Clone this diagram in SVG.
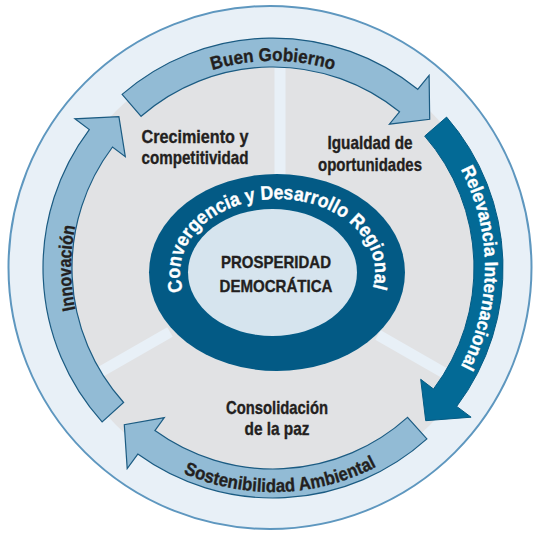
<svg xmlns="http://www.w3.org/2000/svg" width="534" height="534" viewBox="0 0 534 534">
<style>
.bg{fill:#ffffff}
.outer{fill:#e8f0f7;stroke:#5e97bf;stroke-width:2}
.gray{fill:#e1e2e4}
.div{stroke:#e8f0f7;stroke-width:11;fill:none}
.light{fill:#92bbd5;stroke:#1b5b82;stroke-width:1.2;stroke-linejoin:miter}
.dark{fill:#036a96;stroke:#045b84;stroke-width:1}
.t{font-family:'Liberation Sans',Arial,sans-serif;font-weight:bold;stroke-width:0.35;paint-order:stroke}
.lbl{font-size:18.5px;fill:#231f20;stroke:#231f20;text-anchor:middle}
.ctr{font-size:17px;fill:#231f20;stroke:#231f20;text-anchor:middle}
.arr{font-size:18.5px;fill:#231f20;stroke:#231f20}
.wht{fill:#ffffff;stroke:#ffffff}
</style>
<defs>
<path id="pBG" d="M139.9,109.4 A207 207 0 0 1 406.1,109.4"/>
<path id="pRI" d="M435.4,131.7 A212 212 0 0 1 435.4,404.3"/>
<path id="pSA" d="M129.0,439.6 A224 224 0 0 0 428.6,429.1"/>
<path id="pIN" d="M118.3,397.8 A202 202 0 0 1 118.3,138.2"/>
<path id="pCR" d="M183.3,290.9 A97.5 73 0 1 1 371.7,290.9"/>
</defs>
<rect class="bg" x="0" y="0" width="534" height="534"/>
<g id="background">
<circle class="outer" cx="270" cy="267.5" r="261.5"/>
<circle class="gray" cx="273" cy="268" r="222"/>
<path class="div" d="M280,185 V60 M170,332 L88,379 M378,335 L460,382"/>
</g>
<g id="connectors">
<g id="buen-gobierno">
<path class="light" d="M122.1,94.4 A230 230 0 0 1 417.7,89.3 L429.1,75.3 L429.7,119.3 L389.4,124.2 L399.5,111.8 A201 201 0 0 0 141.1,116.3 Z"/>
<text class="t arr"><textPath href="#pBG" startOffset="50%" text-anchor="middle" textLength="123" lengthAdjust="spacingAndGlyphs">Buen Gobierno</textPath></text>
</g>
<g id="relevancia-internacional">
<path class="dark" d="M446.6,117.1 A230 230 0 0 1 456.7,406.4 L471.1,417.2 L425.7,420.7 L420.7,379.3 L433.5,389.0 A201 201 0 0 0 424.7,136.1 Z"/>
<text class="t arr wht"><textPath href="#pRI" startOffset="50%" text-anchor="middle" textLength="205" lengthAdjust="spacingAndGlyphs">Relevancia Internacional</textPath></text>
</g>
<g id="sostenibilidad-ambiental">
<path class="light" d="M426.9,438.9 A230 230 0 0 1 137.8,454.1 L127.2,468.6 L124.3,424.7 L164.3,417.7 L154.9,430.6 A201 201 0 0 0 407.5,417.4 Z"/>
<text class="t arr"><textPath href="#pSA" startOffset="50%" text-anchor="middle" textLength="200" lengthAdjust="spacingAndGlyphs">Sostenibilidad Ambiental</textPath></text>
</g>
<g id="innovacion">
<path class="light" d="M102.1,421.9 A230 230 0 0 1 89.3,129.6 L74.9,118.8 L118.9,116.6 L125.3,156.7 L112.5,147.0 A201 201 0 0 0 123.6,402.5 Z"/>
<text class="t arr"><textPath href="#pIN" startOffset="50%" text-anchor="middle" textLength="84" lengthAdjust="spacingAndGlyphs">Innovación</textPath></text>
</g>
</g>
<g id="crecimiento">
<text class="t lbl" x="195" y="143" textLength="107" lengthAdjust="spacingAndGlyphs">Crecimiento y</text>
<text class="t lbl" x="195" y="164" textLength="107" lengthAdjust="spacingAndGlyphs">competitividad</text>
</g>
<g id="igualdad">
<text class="t lbl" x="370" y="149" textLength="85" lengthAdjust="spacingAndGlyphs">Igualdad de</text>
<text class="t lbl" x="370" y="170.5" textLength="104" lengthAdjust="spacingAndGlyphs">oportunidades</text>
</g>
<g id="consolidacion">
<text class="t lbl" x="277" y="414" textLength="102" lengthAdjust="spacingAndGlyphs">Consolidación</text>
<text class="t lbl" x="277" y="435" textLength="65" lengthAdjust="spacingAndGlyphs">de la paz</text>
</g>
<g id="convergencia">
<ellipse cx="277" cy="272.5" rx="128" ry="98.5" fill="#035a85"/>
<ellipse cx="272.5" cy="272.5" rx="84.5" ry="63.5" fill="#d6e4ee"/>
<text class="t wht" font-size="19.5"><textPath href="#pCR" textLength="304" lengthAdjust="spacingAndGlyphs">Convergencia y Desarrollo Regional</textPath></text>
</g>
<g id="prosperidad">
<text class="t ctr" x="276" y="268" textLength="110" lengthAdjust="spacingAndGlyphs">PROSPERIDAD</text>
<text class="t ctr" x="276" y="291.5" textLength="113" lengthAdjust="spacingAndGlyphs">DEMOCRÁTICA</text>
</g>
</svg>
